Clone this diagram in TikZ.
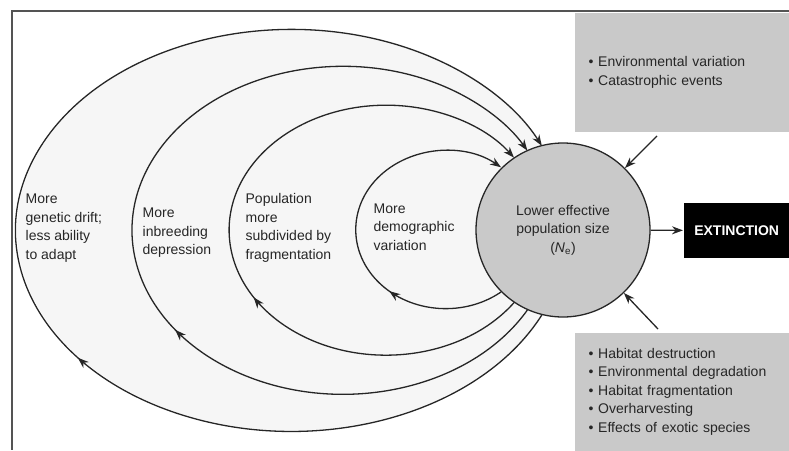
\documentclass[tikz,border=0pt]{standalone}
\usepackage{fontspec}
\setmainfont{Liberation Sans}
\usetikzlibrary{arrows.meta}
\usetikzlibrary{decorations.markings}
\usetikzlibrary{positioning}
\definecolor{factorgray}{gray}{0.79}
\definecolor{loopgray}{gray}{0.965}
\definecolor{framegray}{gray}{0.33}
\definecolor{inkgray}{gray}{0.15}
\tikzset{
	every path/.style={line width=1.3pt},
	align=left,
	txt/.style={
		font=\fontsize{14pt}{18.5pt}\selectfont,
		text=inkgray,
		inner sep=0pt,
	},
	feedback/.style={
		draw=black!85,
		-{Stealth[length=11pt,width=8pt]},
		postaction={decorate},
		decoration={markings,
			mark=at position #1 with {\arrow{Stealth[length=11pt,width=8pt]}}},
	},
	factorbox/.style={
		txt,
		fill=factorgray,
		anchor=north west,
		minimum width=215pt,
		text width=187pt,
		inner xsep=14pt,
	},
	factor/.style={
		draw=black!85,
		-{Stealth[length=11pt,width=8pt]}
	},
	popsize/.style={
		txt,
		draw=black!85,
		circle,
		fill=factorgray,
		minimum size=174pt,
		align=center,
	},
}

\begin{document}
\begin{tikzpicture}[
		x=1pt,y=-1pt,
		label/.style={txt, anchor=west},
	]
		\useasboundingbox (0,0) rectangle (789,450);

		\draw[framegray, line width=1.4pt] (789,11) -- (12,11) -- (12,450);

		\fill[loopgray] (293,230) ellipse [x radius=276pt, y radius=201pt];

		\node[popsize] (ne) at (563,230) {Lower effective\\population size\\({\itshape N}\textsubscript{e})};

		\draw[feedback=0.39] (ne.256.9) arc[start angle=-24.9, end angle=-335.1, x radius=276pt, y radius=201pt];
		\draw[feedback=0.39] (ne.246.5) arc[start angle=-29.1, end angle=-330.9, x radius=211pt, y radius=164pt];
		\draw[feedback=0.40] (ne.236.4) arc[start angle=-35.45, end angle=-324.55, x radius=157pt, y radius=125pt];
		\draw[feedback=0.31] (ne.225.7) arc[start angle=-52.1, end angle=-307.9, x radius=90pt, y radius=79pt];

		\node[label] (drift) at (25,228) {More\\genetic drift;\\less ability\\to adapt};
		\node[label] (inbreed) at (142,233) {More\\inbreeding\\depression};
		\node[label] (subdiv) at (245,228) {Population\\more\\subdivided by\\fragmentation};
		\node[label] (demog) at (373,227) {More\\demographic\\variation};

		\node[factorbox, minimum height=119pt] (envbox) at (574,12) {• Environmental variation\\• Catastrophic events};
		\node[factorbox, minimum height=118pt] (habbox) at (574,332) {• Habitat destruction\\• Environmental degradation\\• Habitat fragmentation\\• Overharvesting\\• Effects of exotic species};

		\node[txt, fill=black, text=white, font=\fontsize{14pt}{16pt}\selectfont\bfseries, anchor=west, minimum width=106pt, minimum height=55pt, align=center] (extinct) at (683,230.5) {EXTINCTION};

		\coordinate (envtail) at (657,136);
		\coordinate (habtail) at (658,329);

		\draw[factor] (envtail) -- (ne.45.4);
		\draw[factor] (habtail) -- (ne.-46);
		\draw[factor] (ne) -- (extinct);

	\end{tikzpicture}
\end{document}
